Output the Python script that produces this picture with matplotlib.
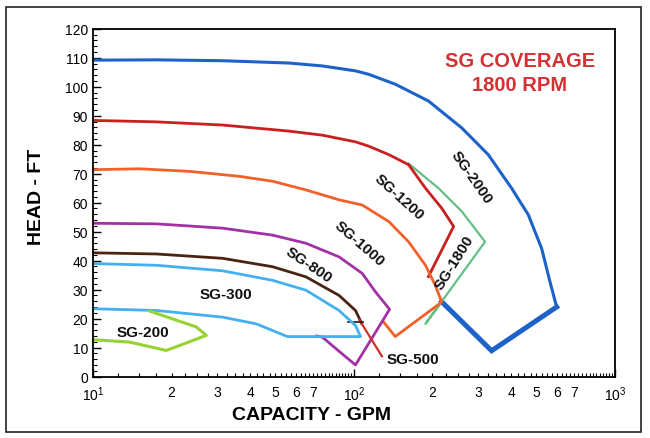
import numpy as np
import matplotlib.pyplot as plt
from matplotlib.ticker import FixedLocator, FuncFormatter, MultipleLocator
from matplotlib.patches import Rectangle

plt.rcParams['font.family'] = ['Liberation Sans', 'DejaVu Sans']
plt.rcParams['mathtext.fontset'] = 'custom'
plt.rcParams['mathtext.rm'] = 'Liberation Sans'

# pump coverage outlines, capacity (GPM) vs head (FT)
sg2000_q = [10, 17.5, 31.4, 56.5, 75.7, 101.4, 114, 144, 193, 259, 327, 402, 466, 524, 564, 598]
sg2000_h = [109.2, 109.3, 109.0, 108.2, 107.2, 105.5, 104.3, 100.9, 95.1, 85.8, 76.6, 65.0, 55.8, 44.2, 32.7, 24.0]
sg2000_low_q = [598, 337, 217]
sg2000_low_h = [24.0, 8.9, 25.8]

sg1800_q = [162, 211, 259, 318, 188, 214]
sg1800_h = [73.5, 65.0, 57.0, 46.5, 18.2, 25.1]

sg1200_q = [10, 17.5, 31.4, 56.5, 75.7, 101.4, 114, 136, 162, 188, 217, 241, 193]
sg1200_h = [88.4, 87.9, 86.8, 84.7, 83.3, 81.0, 79.5, 76.6, 73.1, 65.0, 58.1, 51.8, 34.5]

sg1000_q = [10, 15.1, 23.5, 36.4, 48.8, 65.5, 87.7, 107.6, 136, 162, 188, 205, 217, 144, 130]
sg1000_h = [71.4, 71.7, 70.8, 69.1, 67.4, 64.4, 61.0, 59.2, 53.5, 46.5, 38.4, 31.5, 25.7, 13.8, 18.8]

sg800_q = [10, 17.5, 31.4, 48.8, 65.5, 87.7, 107.6, 121, 137, 101.4, 90.2, 75.7, 72]
sg800_h = [52.9, 52.7, 51.2, 48.8, 46.0, 41.3, 35.6, 29.2, 23.2, 4.0, 7.8, 13.6, 14.0]

sg500_q = [10, 17.5, 31.4, 48.8, 65.5, 87.7, 101.4, 107]
sg500_h = [42.7, 42.3, 40.8, 37.9, 34.4, 28.0, 22.8, 18.4]
sg500_end_q = [105, 128]
sg500_end_h = [19.5, 7.0]
sg500_tick_q = [95, 108]
sg500_tick_h = [18.7, 18.7]

sg300_q = [10, 17.5, 31.4, 48.8, 65.5, 87.7, 101.4, 106, 55.6, 42.2, 31.4, 17.5, 10]
sg300_h = [39.0, 38.4, 36.5, 33.2, 29.8, 22.8, 17.6, 13.8, 13.8, 18.2, 20.5, 22.8, 23.4]

sg200_q = [10, 13.8, 19.1, 27.2, 24.9, 16.5]
sg200_h = [12.7, 11.9, 9.0, 14.2, 17.1, 22.6]

fig = plt.figure(figsize=(6.5, 4.39), dpi=100)
ax = fig.add_axes([0.143, 0.140, 0.803, 0.792])
ax.set_xscale('log')

ax.plot(sg2000_q, sg2000_h, color='#1c62c8', lw=2.2)
ax.plot(sg2000_low_q, sg2000_low_h, color='#1c62c8', lw=3.6, solid_joinstyle='miter')
ax.plot(sg1800_q, sg1800_h, color='#62c084', lw=1.6)
ax.plot(sg1200_q, sg1200_h, color='#c8201e', lw=2.0)
ax.plot(sg1000_q, sg1000_h, color='#f0622a', lw=2.0)
ax.plot(sg800_q, sg800_h, color='#a232a4', lw=2.0)
ax.plot(sg500_q, sg500_h, color='#4a2412', lw=2.0)
ax.plot(sg500_end_q, sg500_end_h, color='#cc3030', lw=1.6)
ax.plot(sg500_tick_q, sg500_tick_h, color='#2a1a10', lw=1.2)
ax.plot(sg300_q, sg300_h, color='#44b0f0', lw=2.0)
ax.plot(sg200_q, sg200_h, color='#96d232', lw=2.2)

lab = dict(fontsize=11, fontweight='bold', color='#111111', ha='center', va='center')
ax.text(282, 69, 'SG-2000', rotation=-55, **lab)
ax.text(149, 62.3, 'SG-1200', rotation=-42, **lab)
ax.text(242, 39.5, 'SG-1800', rotation=58, **lab)
ax.text(105, 46, 'SG-1000', rotation=-41, **lab)
ax.text(67, 38.8, 'SG-800', rotation=-34, **lab)
ax.text(32.4, 28.6, 'SG-300', **lab)
ax.text(15.6, 15.3, 'SG-200', **lab)
ax.text(169, 6.1, 'SG-500', **lab)

ax.text(0.818, 0.875, 'SG COVERAGE\n1800 RPM', transform=ax.transAxes, color='#d33232',
        fontsize=14.5, fontweight='bold', ha='center', va='center', linespacing=1.35)

ax.set_xlim(10, 1000)
ax.set_ylim(0, 120)
ax.yaxis.set_major_locator(MultipleLocator(10))
ax.yaxis.set_minor_locator(MultipleLocator(2))

minor_pos = []
for dec in [10, 100]:
    for s in np.arange(1.25, 10, 0.25):
        minor_pos.append(dec * s)
ax.xaxis.set_major_locator(FixedLocator([10, 100, 1000]))
ax.xaxis.set_minor_locator(FixedLocator(minor_pos))


def minor_label(v, pos):
    s = v / 10 ** np.floor(np.log10(v) + 1e-9)
    if abs(s - round(s)) < 1e-6 and 2 <= round(s) <= 7:
        return str(int(round(s)))
    return ''


ax.xaxis.set_minor_formatter(FuncFormatter(minor_label))
ax.tick_params(axis='both', which='both', direction='in', labelsize=10)
ax.tick_params(axis='both', which='major', length=6, width=1.0)
ax.tick_params(axis='both', which='minor', length=3, width=0.8)
ax.tick_params(axis='x', which='both', pad=6)
for sp in ax.spines.values():
    sp.set_linewidth(1.3)

ax.set_xlabel('CAPACITY - GPM', fontsize=14, fontweight='bold', labelpad=2)
ax.xaxis.set_label_coords(0.418, -0.085)
ax.set_ylabel('HEAD - FT', fontsize=14, fontweight='bold')
ax.yaxis.set_label_coords(-0.092, 0.52)

fig.patches.append(Rectangle((6 / 650, 1 - 433 / 439), 635 / 650, 425 / 439,
                             transform=fig.transFigure, fill=False, lw=1.2, color='#222222'))

fig.savefig('out.png', dpi=100)
